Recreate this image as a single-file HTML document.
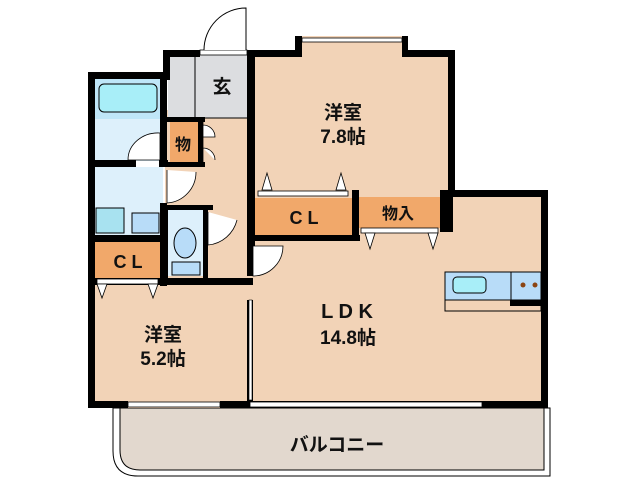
<!DOCTYPE html>
<html><head><meta charset="utf-8"><style>
html,body{margin:0;padding:0;background:#fff;}
svg{display:block;}
text{font-family:"Liberation Sans","Noto Sans CJK JP",sans-serif;font-weight:bold;fill:#111;}
</style></head><body>
<svg width="638" height="480" viewBox="0 0 638 480" xmlns="http://www.w3.org/2000/svg">
<path d="M113,408 L550,408 L550,476 L138,476 Q113,476 113,451 Z" fill="#fff" stroke="#000" stroke-width="1"/>
<path d="M120,408 L544,408 L544,470 L140,470 Q120,470 120,450 Z" fill="#e2d8ce" stroke="#000" stroke-width="1"/>
<rect x="88" y="285" width="162" height="123" fill="#f2d3b7"/>
<rect x="250" y="190" width="298" height="218" fill="#f2d3b7"/>
<rect x="250" y="50" width="203" height="145" fill="#f2d3b7"/>
<rect x="295" y="36" width="113" height="20" fill="#f2d3b7"/>
<rect x="165" y="110" width="88" height="180" fill="#f2d3b7"/>
<rect x="168" y="50" width="85" height="68" fill="#dcdde0"/>
<line x1="195" y1="57" x2="195" y2="118" stroke="#000" stroke-width="1"/>
<line x1="170" y1="118" x2="250" y2="118" stroke="#000" stroke-width="1"/>
<rect x="95" y="79" width="68" height="40" fill="#bfe6f8"/>
<rect x="99" y="84" width="58" height="28" rx="5" fill="#a8eef8" stroke="#000" stroke-width="1"/>
<rect x="95" y="119" width="68" height="42" fill="#ddf0fb"/>
<rect x="95" y="167" width="68" height="68" fill="#ddf0fb"/>
<rect x="96" y="208" width="28" height="25" fill="#a8e2f0" stroke="#000" stroke-width="1"/>
<rect x="132" y="213" width="27" height="20" fill="#b8dcf8" stroke="#000" stroke-width="1"/>
<rect x="168" y="210" width="35" height="66" fill="#ddf0fb"/>
<ellipse cx="185" cy="243" rx="11" ry="15" fill="#b8dcf8" stroke="#000" stroke-width="1"/>
<rect x="172" y="262" width="28" height="13" fill="#b8dcf8" stroke="#000" stroke-width="1"/>
<rect x="95" y="242" width="66" height="36" fill="#f1a86a"/>
<rect x="170" y="122" width="28" height="40" fill="#f1a86a"/>
<rect x="255" y="198" width="97" height="37" fill="#f1a86a"/>
<rect x="358" y="197" width="82" height="31" fill="#f1a86a"/>
<rect x="445" y="272" width="96" height="28" fill="#b8dcf8" stroke="#000" stroke-width="1"/>
<line x1="511" y1="272" x2="511" y2="300" stroke="#000"/>
<rect x="453" y="277" width="33" height="16" rx="4" fill="#a8eef8" stroke="#000"/>
<circle cx="523" cy="285" r="2.5" fill="#8b4513"/><circle cx="535" cy="285" r="2.5" fill="#8b4513"/>
<rect x="445" y="300" width="96" height="11" fill="none" stroke="#000"/>
<rect x="510" y="300" width="33" height="6" fill="#000"/>
<g fill="#000">
<rect x="88" y="72" width="7" height="336"/>
<rect x="88" y="72" width="80" height="7"/>
<rect x="163" y="50" width="7" height="30"/>
<rect x="163" y="50" width="37" height="7"/>
<rect x="247" y="50" width="48" height="7"/>
<rect x="295" y="36" width="7" height="21"/>
<rect x="402" y="36" width="6" height="21"/>
<rect x="408" y="50" width="47" height="7"/>
<rect x="448" y="50" width="7" height="147"/>
<rect x="448" y="190" width="100" height="7"/>
<rect x="541" y="190" width="7" height="218"/>
<rect x="247" y="50" width="8" height="226"/>
<rect x="247" y="300" width="6" height="108"/>
<rect x="88" y="401" width="40" height="7"/>
<rect x="220" y="401" width="30" height="7"/>
<rect x="242" y="401" width="306" height="7"/>
<rect x="88" y="160" width="48" height="7"/>
<rect x="159" y="160" width="9" height="7"/>
<rect x="160" y="72" width="7" height="95"/>
<rect x="160" y="203" width="7" height="83"/>
<rect x="88" y="235" width="77" height="7"/>
<rect x="88" y="278" width="165" height="7"/>
<rect x="165" y="117" width="40" height="5"/>
<rect x="165" y="162" width="40" height="5"/>
<rect x="198" y="117" width="5" height="50"/>
<rect x="163" y="205" width="50" height="5"/>
<rect x="163" y="205" width="5" height="75"/>
<rect x="203" y="205" width="5" height="75"/>
<rect x="252" y="235" width="108" height="6"/>
<rect x="352" y="190" width="7" height="50"/>
<rect x="440" y="190" width="13" height="42"/>
</g>
<rect x="302" y="38" width="100" height="4" fill="#fff" stroke="#000" stroke-width="0.8"/>
<rect x="128" y="402" width="92" height="5" fill="#fff" stroke="#000" stroke-width="0.8"/>
<rect x="250" y="402" width="232" height="5" fill="#fff" stroke="#000" stroke-width="0.8"/>
<rect x="200" y="50" width="47" height="5" fill="#fff" stroke="#000" stroke-width="0.8"/>
<path d="M246,50 L246,8 A42,42 0 0 0 204,50" fill="#fff" stroke="#000" stroke-width="1"/>
<rect x="258" y="191" width="90" height="5" fill="#fff" stroke="#000" stroke-width="0.8"/>
<path d="M262,190 L267,173 L272,190 Z M336,190 L341,173 L346,190 Z" fill="#fff" stroke="#000" stroke-width="0.8"/>
<rect x="361" y="228" width="77" height="5" fill="#fff" stroke="#000" stroke-width="0.8"/>
<path d="M365,233 L370,249 L375,233 Z M428,233 L433,249 L438,233 Z" fill="#fff" stroke="#000" stroke-width="0.8"/>
<rect x="97" y="279" width="61" height="5" fill="#fff" stroke="#000" stroke-width="0.8"/>
<path d="M97,284 L102,298 L107,284 Z M148,284 L153,298 L158,284 Z" fill="#fff" stroke="#000" stroke-width="0.8"/>
<rect x="249" y="300" width="3" height="100" fill="#fff" stroke="#000" stroke-width="0.6"/>
<path d="M128,160 L160,160 L160,133 A30,27 0 0 0 128,160 Z" fill="#fff" stroke="#000" stroke-width="0.8"/>
<path d="M167,170 L167,203 A31,31 0 0 0 196,172" fill="#fff" stroke="#000" stroke-width="0.8"/>
<path d="M208,212 L208,245 A33,33 0 0 0 237,220" fill="#fff" stroke="#000" stroke-width="0.8"/>
<path d="M253,246 L253,276 A30,30 0 0 0 283,246 Z" fill="#fff" stroke="#000" stroke-width="0.8"/>
<path d="M203,122 L203,162 M203,125 A12,12 0 0 1 215,137 L203,137 M203,148 A12,12 0 0 1 215,160" fill="#fff" stroke="#000" stroke-width="0.8"/>
<text x="222" y="93" font-size="19" text-anchor="middle">玄</text>
<text x="183" y="150" font-size="16" text-anchor="middle">物</text>
<text x="343" y="119" font-size="19" text-anchor="middle">洋室</text>
<text x="343" y="143" font-size="19" text-anchor="middle">7.8帖</text>
<text x="304" y="224" font-size="18" text-anchor="middle">C L</text>
<text x="398" y="219" font-size="16" text-anchor="middle">物入</text>
<text x="128" y="268" font-size="18" text-anchor="middle">C L</text>
<text x="163" y="341" font-size="19" text-anchor="middle">洋室</text>
<text x="163" y="365" font-size="19" text-anchor="middle">5.2帖</text>
<text x="347" y="318" font-size="20" text-anchor="middle">L D K</text>
<text x="348" y="344" font-size="19" text-anchor="middle">14.8帖</text>
<text x="337" y="451" font-size="19" text-anchor="middle">バルコニー</text>
</svg>
</body></html>
